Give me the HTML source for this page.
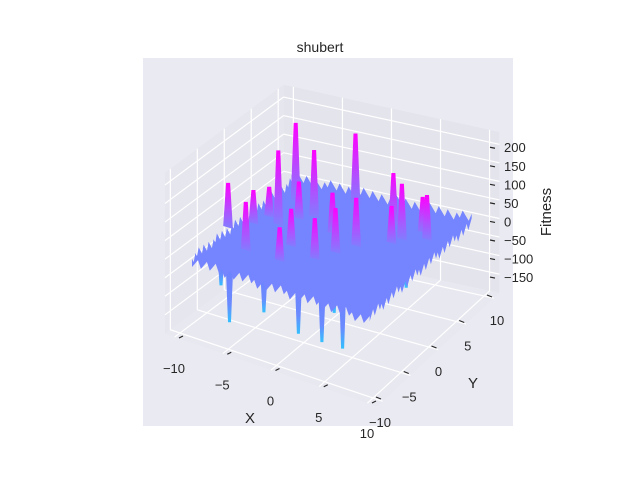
<!DOCTYPE html>
<html><head><meta charset="utf-8"><style>
html,body{margin:0;padding:0;background:#fff;}
svg text{font-family:"Liberation Sans",sans-serif;fill:#262626;}
</style></head><body>
<svg id="chart" width="640" height="480" viewBox="0 0 640 480" xmlns="http://www.w3.org/2000/svg">
<defs>
<linearGradient id="gUp" x1="0" y1="0" x2="0" y2="1"><stop offset="0" stop-color="#ff00ff"/><stop offset="0.6" stop-color="#b050ff"/><stop offset="1" stop-color="#7f7fff"/></linearGradient>
<linearGradient id="gDn" x1="0" y1="0" x2="0" y2="1"><stop offset="0" stop-color="#7080ff"/><stop offset="0.7" stop-color="#6a8aff"/><stop offset="1" stop-color="#33c0ff"/></linearGradient>
</defs>
<rect x="143" y="58" width="370" height="368" fill="#eaeaf2"/>
<text x="320" y="52" text-anchor="middle" font-size="14">shubert</text>
<g id="panes"></g>
<g id="surface"></g>
<g id="ticks"></g>
<text x="250" y="423" text-anchor="middle" font-size="15">X</text>
<text x="473" y="388" text-anchor="middle" font-size="15">Y</text>
<text x="0" y="0" text-anchor="middle" font-size="15" transform="translate(551,212) rotate(-90)">Fitness</text>
</svg>
<script>
const xTicks=[-10,-5,0,5,10];
const yTicks=[-10,-5,0,5,10];
const zTicks=[-150,-100,-50,0,50,100,150,200];
const peakX=[-6,-7,-2,5,-9.5,-6,1,-4,-1,3,7,-3,-8,-5,0,2,6,-2.5,4.5,-7.5];
const peakY=[1,6,8,4,-2,-5,-1,4,2,6,5,-2,0,3,-3,1,6,-5,3,2];
const peakZ=[200,210,190,150,120,130,120,180,110,140,120,100,90,100,110,130,95,90,100,80];
const dipX=[-6,0,4,2,6,-3,-8,3];
const dipY=[-8,-6,-5,-3,3,-7,-6,-7];
const dipZ=[-160,-165,-185,-130,-110,-120,-100,-150];
const NS='http://www.w3.org/2000/svg';
const FL=[180,333],FR=[373,398],BR=[484,296],BL=[288,252];
const zMin=-201,zMax=233,zs=0.371;
function P(x,y,z){const u=(x+10)/20,v=(y+10)/20;
 const a=(1-u)*(1-v),b=u*(1-v),c=u*v,d=(1-u)*v;
 const px=FL[0]*a+FR[0]*b+BR[0]*c+BL[0]*d;
 const py=FL[1]*a+FR[1]*b+BR[1]*c+BL[1]*d-(z-zMin)*zs;
 return [px,py];}
function el(tag,attrs,parent){const e=document.createElementNS(NS,tag);for(const k in attrs)e.setAttribute(k,attrs[k]);parent.appendChild(e);return e;}
function pts(arr){return arr.map(p=>p[0].toFixed(1)+','+p[1].toFixed(1)).join(' ');}
const panes=document.getElementById('panes');
const E=11;
let p1=el('polygon',{points:pts([P(-E,-E,zMin),P(-E,E,zMin),P(-E,E,zMax),P(-E,-E,zMax)]),fill:'#e6e6ee'},panes);

let p2=el('polygon',{points:pts([P(-E,E,zMin),P(E,E,zMin),P(E,E,zMax),P(-E,E,zMax)]),fill:'#e4e4ec'},panes);

let p3=el('polygon',{points:pts([P(-E,-E,zMin),P(E,-E,zMin),P(E,E,zMin),P(-E,E,zMin)]),fill:'#e8e8f0'},panes);

function gl(a,b,name){const l=el('line',{x1:a[0],y1:a[1],x2:b[0],y2:b[1],stroke:'#fff','stroke-width':1.2},panes);}
xTicks.forEach(x=>{gl(P(x,-E,zMin),P(x,E,zMin),'floor-gridline-x');gl(P(x,E,zMin),P(x,E,zMax),'back-gridline-x');});
yTicks.forEach(y=>{gl(P(-E,y,zMin),P(E,y,zMin),'floor-gridline-y');gl(P(-E,y,zMin),P(-E,y,zMax),'left-gridline-y');});
zTicks.forEach(z=>{gl(P(-E,-E,z),P(-E,E,z),'left-gridline-z');gl(P(-E,E,z),P(E,E,z),'back-gridline-z');});
const surf=document.getElementById('surface');
const dips=el('g',{},surf);
for(let i=0;i<dipX.length;i++){const b1=P(dipX[i]-0.4,dipY[i],0),b2=P(dipX[i]+0.4,dipY[i],0),t=P(dipX[i],dipY[i],dipZ[i]);
 const s=el('polygon',{points:pts([b1,[t[0]-1.5,t[1]],[t[0]+1.5,t[1]],b2]),fill:'url(#gDn)'},dips);
 }
const edge=[];const N=60;
function j(i){return ((i*37)%11-5)*0.6;}
const S=9.2;
for(let i=0;i<=N;i++)edge.push(P(-S+2*S*i/N,-S,j(i)*5-10));
for(let i=0;i<=N;i++)edge.push(P(S,-S+2*S*i/N,j(i+3)*5));
for(let i=0;i<=N;i++)edge.push(P(S-2*S*i/N,S,j(i+5)*5+15));
for(let i=0;i<=N;i++)edge.push(P(-S,S-2*S*i/N,j(i+7)*5));
const sheet=el('polygon',{points:pts(edge),fill:'#7584ff'},surf);

const ups=el('g',{},surf);
const order=peakX.map((_,i)=>i).sort((a,b)=>peakY[b]-peakY[a]);
order.forEach(i=>{const b1=P(peakX[i]-0.5,peakY[i],0),b2=P(peakX[i]+0.5,peakY[i],0),t=P(peakX[i],peakY[i],peakZ[i]);
 const s=el('polygon',{points:pts([b1,[t[0]-2,t[1]],[t[0]+2,t[1]],b2]),fill:'url(#gUp)'},ups);
 });
const tk=document.getElementById('ticks');
xTicks.forEach(x=>{const a=P(x,-10,zMin);
 const l=el('line',{x1:a[0]-1,y1:a[1]+5,x2:a[0]+3,y2:a[1]+3,stroke:'#262626','stroke-width':1.2},tk);
 const t=el('text',{x:a[0]-6,y:a[1]+40,'text-anchor':'middle','font-size':13},tk);t.textContent=String(x).replace('-','\u2212');});
yTicks.forEach(y=>{const a=P(10,y,zMin);
 const l=el('line',{x1:a[0]+3,y1:a[1]-1,x2:a[0]+8,y2:a[1]+1,stroke:'#262626','stroke-width':1.2},tk);
 const t=el('text',{x:a[0]+10+0.3*y,y:a[1]+29,'text-anchor':'middle','font-size':13},tk);t.textContent=String(y).replace('-','\u2212');});
zTicks.forEach(z=>{const a=P(10,10,z);
 const l=el('line',{x1:a[0]+6,y1:a[1],x2:a[0]+11,y2:a[1]+1,stroke:'#262626','stroke-width':1.2},tk);
 const t=el('text',{x:a[0]+20,y:a[1]+5,'text-anchor':'start','font-size':13},tk);t.textContent=String(z).replace('-','\u2212');});
</script>
</body></html>
